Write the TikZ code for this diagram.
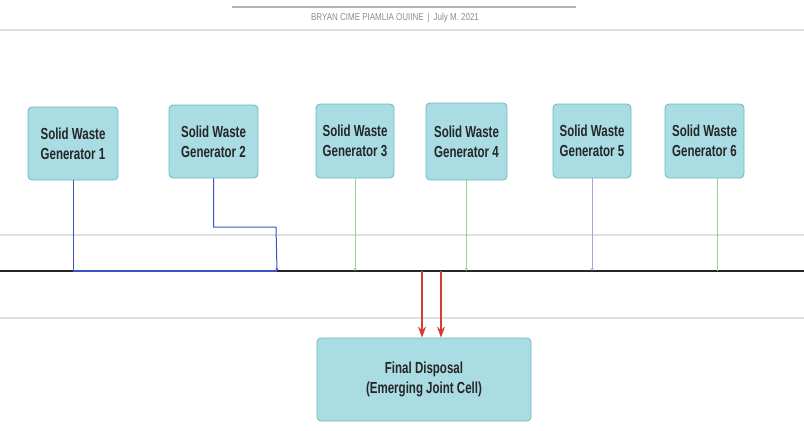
\documentclass[tikz,border=0pt]{standalone}
\usepackage{fontspec}
\setmainfont{Liberation Sans}
\newfontfamily\narrowf[FakeStretch=0.72]{Liberation Sans}
\newfontfamily\hdrf[FakeStretch=0.8]{Liberation Sans}
\usetikzlibrary{arrows.meta}
\definecolor{boxfill}{HTML}{A9DCE3}
\definecolor{boxdraw}{HTML}{6FB6C1}
\definecolor{lnblue}{HTML}{3F51C8}
\definecolor{lngreen}{HTML}{8FD99A}
\definecolor{lnlav}{HTML}{A9A0E6}
\definecolor{lnred}{HTML}{D83A34}
\definecolor{hdrgray}{HTML}{8C8C8C}
\tikzset{
  genbox/.style={draw=boxdraw, fill=boxfill, line width=0.8pt, rounded corners=4pt,
    minimum width=#1, align=center, font=\narrowf\bfseries\fontsize{16}{20}\selectfont, text=black!85},
  guide/.style={draw=black!12, line width=1.6pt},
  feed/.style={line width=1pt},
  smalltip/.style={-{Stealth[length=3pt,width=3pt]}},
  redtip/.style={-{Stealth[length=11pt,width=8pt]}, line width=1.3pt, draw=lnred, fill=lnred}
}
\begin{document}
\begin{tikzpicture}[x=1pt,y=-1pt]
\useasboundingbox (0,0) rectangle (804,431);
% header
\draw[black!30, line width=1.2pt] (232,7) -- (576,7);
\node[text=hdrgray, font=\hdrf\fontsize{10}{12}\selectfont] (hdr) at (395,18) {BRYAN CIME PIAMLIA OUIINE \,|\,  July M. 2021};
\draw[guide] (0,30) -- (804,30);
\draw[guide] (0,235) -- (804,235);
\draw[guide] (0,318) -- (804,318);
% boxes
\node[genbox=90pt, minimum height=73pt] (g1) at (73,143.5) {Solid Waste\\Generator 1};
\node[genbox=89pt, minimum height=73pt] (g2) at (213.5,141.5) {Solid Waste\\Generator 2};
\node[genbox=78pt, minimum height=74pt] (g3) at (355,141) {Solid Waste\\Generator 3};
\node[genbox=81pt, minimum height=77pt] (g4) at (466.5,141.5) {Solid Waste\\Generator 4};
\node[genbox=78pt, minimum height=74pt] (g5) at (592,141) {Solid Waste\\Generator 5};
\node[genbox=79pt, minimum height=74pt] (g6) at (704.5,141) {Solid Waste\\Generator 6};
\node[genbox=214pt, minimum height=83pt] (fd) at (424,379.5) {Final Disposal\\(Emerging Joint Cell)};
% main line
\coordinate (bl) at (0,271);
\coordinate (br) at (804,271);
\draw[black!85, line width=1.3pt] (bl) -- (br);
% feeders
\coordinate (j1) at (73,271);
\coordinate (j2) at (277,271);
\draw[lnblue, line width=1pt] (g1.south) -- (j1);
\draw[lnblue, line width=1.2pt] (j1) -- (j2);
\draw[feed, lnblue, smalltip] (g2.south) |- (276,227) -- (j2);
\draw[feed, lngreen, smalltip] (g3.south) -- (355,271);
\draw[feed, lngreen, smalltip] (g4.south) -- (466.5,271);
\draw[feed, lnlav, smalltip] (g5.south) -- (592,271);
\coordinate (s6) at (717,178);
\draw[feed, lngreen] (s6) -- (717,271);
% red arrows
\coordinate (r1) at (422,271);
\coordinate (r2) at (441,271);
\draw[redtip] (r1) -- (r1 |- fd.north);
\draw[redtip] (r2) -- (r2 |- fd.north);
\end{tikzpicture}
\end{document}
